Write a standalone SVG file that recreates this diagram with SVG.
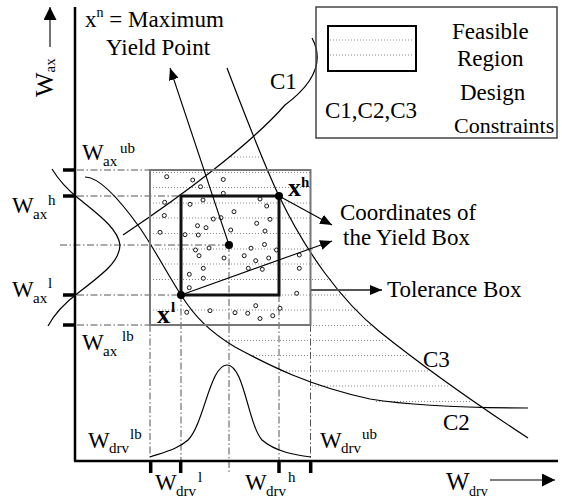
<svg xmlns="http://www.w3.org/2000/svg" width="562" height="499" viewBox="0 0 562 499">
<style>
.ax{stroke:#000;stroke-width:2.5;fill:none}
.tk{stroke:#000;stroke-width:3.5}
.cv{fill:none;stroke:#000;stroke-width:1.2}
.dd{stroke:#555;stroke-width:1;stroke-dasharray:7 2.5 1.5 2.5;fill:none}
.dt{stroke:#888;stroke-width:1;stroke-dasharray:1 2;fill:none}
.sm{fill:#fff;stroke:#000;stroke-width:0.9}
.ar{stroke:#000;stroke-width:1.1;fill:none}
.t{font-family:"Liberation Serif","Times New Roman",serif;fill:#000;font-size:23px}
.s{font-size:15px}
.b{font-weight:bold}
</style>
<defs>
<marker id="ah" viewBox="0 0 12 10" refX="12" refY="5" markerUnits="userSpaceOnUse" markerWidth="12" markerHeight="10" orient="auto">
<path d="M0,0 L12,5 L0,10 z" fill="#000"/>
</marker>
<marker id="ahb" viewBox="0 0 13 13" refX="13" refY="6.5" markerUnits="userSpaceOnUse" markerWidth="13" markerHeight="13" orient="auto">
<path d="M0,0 L13,6.5 L0,13 z" fill="#000"/>
</marker>
</defs>

<g id="hatch">
<path class="dt" d="M231,157H262 M150,172.5H310 M150,187.5H310 M150,203H310 M150,218H310 M150,233.5H310 M150,249H315 M150,264H322 M150,279.5H332 M279,295H346 M150,310H359 M310,325.5H372 M226,340.5H386 M250,355.5H407 M280,371H429 M312,386H449 M376,401.5H470"/>
</g>

<g id="guides">
<path class="dd" d="M77,170H150 M77,196H181 M60,245H229 M77,295H181 M77,325H150"/>
<path class="dd" d="M150,325V461 M181,295V461 M229,245V473 M279,295V461 M310.5,325V461"/>
</g>

<g id="samples">
<circle class="sm" cx="166.7" cy="176.7" r="2"/>
<circle class="sm" cx="192.7" cy="180" r="2"/>
<circle class="sm" cx="200.5" cy="186.7" r="2"/>
<circle class="sm" cx="223.3" cy="179.5" r="2"/>
<circle class="sm" cx="223.3" cy="193.3" r="2"/>
<circle class="sm" cx="164.7" cy="202.3" r="2"/>
<circle class="sm" cx="190" cy="204.3" r="2"/>
<circle class="sm" cx="203" cy="200" r="2"/>
<circle class="sm" cx="260" cy="199" r="2"/>
<circle class="sm" cx="266.7" cy="206" r="2"/>
<circle class="sm" cx="164.3" cy="215.5" r="2"/>
<circle class="sm" cx="234" cy="211.7" r="2"/>
<circle class="sm" cx="213.3" cy="219" r="2"/>
<circle class="sm" cx="221" cy="217.7" r="2"/>
<circle class="sm" cx="256.7" cy="223.3" r="2"/>
<circle class="sm" cx="270" cy="219.3" r="2"/>
<circle class="sm" cx="197.5" cy="225.7" r="2"/>
<circle class="sm" cx="206" cy="227.7" r="2"/>
<circle class="sm" cx="160" cy="232.3" r="2"/>
<circle class="sm" cx="185" cy="234.7" r="2"/>
<circle class="sm" cx="198.3" cy="235" r="2"/>
<circle class="sm" cx="230.7" cy="230" r="2"/>
<circle class="sm" cx="265" cy="231" r="2"/>
<circle class="sm" cx="209" cy="248" r="2"/>
<circle class="sm" cx="195.5" cy="250" r="2"/>
<circle class="sm" cx="199" cy="255.7" r="2"/>
<circle class="sm" cx="224" cy="258" r="2"/>
<circle class="sm" cx="251" cy="248.2" r="2"/>
<circle class="sm" cx="264.5" cy="244.5" r="2"/>
<circle class="sm" cx="276.5" cy="250" r="2"/>
<circle class="sm" cx="244.2" cy="255.7" r="2"/>
<circle class="sm" cx="255.7" cy="260.7" r="2"/>
<circle class="sm" cx="268.7" cy="258" r="2"/>
<circle class="sm" cx="203.3" cy="268.3" r="2"/>
<circle class="sm" cx="189.3" cy="274.3" r="2"/>
<circle class="sm" cx="203.3" cy="278.3" r="2"/>
<circle class="sm" cx="189.3" cy="287.7" r="2"/>
<circle class="sm" cx="248.3" cy="268.3" r="2"/>
<circle class="sm" cx="262.3" cy="269.3" r="2"/>
<circle class="sm" cx="299.3" cy="255" r="2"/>
<circle class="sm" cx="299.3" cy="268.3" r="2"/>
<circle class="sm" cx="296.7" cy="293.3" r="2"/>
<circle class="sm" cx="186.7" cy="312.3" r="2"/>
<circle class="sm" cx="210" cy="310.7" r="2"/>
<circle class="sm" cx="235" cy="312.7" r="2"/>
<circle class="sm" cx="247.7" cy="313.3" r="2"/>
<circle class="sm" cx="255.7" cy="305.7" r="2"/>
<circle class="sm" cx="260" cy="318.5" r="2"/>
<circle class="sm" cx="272.7" cy="315.7" r="2"/>
<circle class="sm" cx="280" cy="308.3" r="2"/>
</g>

<g id="curves">
<path id="C1" class="cv" d="M123,235 C180,197 250,145 285,105 C312,85 325,62 312,38"/>
<path id="C2" class="cv" d="M85,177 C100,177 120,200 140,228 C155,250 168,275 181,295 C195,317 210,332 235,347 C270,366 310,386 370,399 C420,407 480,408 528,408"/>
<path id="C3" class="cv" d="M227,68 C245,115 262,160 279,196 C305,250 340,300 380,332 C420,364 470,400 528,438"/>
<path id="pdf-ax" class="cv" d="M52,169 C60,182 68,190 78,198 C96,213 118,228 120,245 C120,262 100,276 78,293 C66,302 55,313 48,326"/>
<path id="pdf-drv" class="cv" d="M150,457 C165,452 178,449 188,440 C204,424 210,365 227,365 C244,365 248,424 262,440 C276,452 295,455 311,457"/>
</g>

<g id="tolerance-box">
<rect x="150" y="170" width="160.5" height="155" fill="none" stroke="#777" stroke-width="2"/>
</g>
<g id="yield-box">
<rect x="181" y="196" width="98" height="99" fill="none" stroke="#111" stroke-width="3"/>
</g>

<g id="axes">
<path class="ax" d="M75,7V461 M74,461H558"/>
<path class="tk" d="M63,170H75 M63,196H75 M63,295H75 M63,325H75 M150.7,461V473 M180.7,461V473 M279,461V473 M310.7,461V473"/>
</g>

<g id="connectors">
<line class="ar" x1="229" y1="245" x2="170" y2="68" marker-end="url(#ah)"/>
<line class="ar" x1="279" y1="196" x2="332" y2="225" marker-end="url(#ah)"/>
<line class="ar" x1="181" y1="295" x2="332" y2="241" marker-end="url(#ah)"/>
<line x1="311" y1="290" x2="382" y2="290" stroke="#555" stroke-width="2" marker-end="url(#ah)"/>
<line class="ar" x1="50" y1="47" x2="50" y2="7" marker-end="url(#ahb)"/>
<line class="ar" x1="490" y1="480" x2="555" y2="480" marker-end="url(#ahb)"/>
</g>

<g id="points">
<circle id="xh" cx="279" cy="196" r="4" fill="#000"/>
<circle id="xl" cx="181" cy="295" r="4" fill="#000"/>
<circle id="xn" cx="229" cy="245" r="4" fill="#000"/>
</g>

<g id="labels" class="t">
<text x="85" y="27">x<tspan font-size="14" dy="-10">n</tspan><tspan dy="10"> = Maximum</tspan></text>
<text x="106" y="55">Yield Point</text>
<text x="270" y="89">C1</text>
<text x="423" y="367">C3</text>
<text x="443" y="430">C2</text>
<text x="340" y="220">Coordinates of</text>
<text x="343" y="245">the Yield Box</text>
<text x="387" y="297">Tolerance Box</text>
<text class="b"><tspan x="288" y="196" font-size="26">x</tspan><tspan x="301" y="187" class="s">h</tspan></text>
<text class="b"><tspan x="157" y="323" font-size="26">x</tspan><tspan x="171" y="312" class="s">l</tspan></text>
<text><tspan x="82" y="160">W</tspan><tspan x="103" y="166" class="s">ax</tspan><tspan x="120" y="153" class="s">ub</tspan></text>
<text><tspan x="12" y="213">W</tspan><tspan x="33" y="219" class="s">ax</tspan><tspan x="48" y="205" class="s">h</tspan></text>
<text><tspan x="12" y="297">W</tspan><tspan x="33" y="303" class="s">ax</tspan><tspan x="48" y="288" class="s">l</tspan></text>
<text><tspan x="82" y="350">W</tspan><tspan x="103" y="356" class="s">ax</tspan><tspan x="122" y="341" class="s">lb</tspan></text>
<text><tspan x="88" y="448">W</tspan><tspan x="109" y="453" class="s">drv</tspan><tspan x="130" y="439" class="s">lb</tspan></text>
<text><tspan x="155" y="490">W</tspan><tspan x="176" y="496" class="s">drv</tspan><tspan x="198" y="482" class="s">l</tspan></text>
<text><tspan x="245" y="490">W</tspan><tspan x="266" y="496" class="s">drv</tspan><tspan x="288" y="482" class="s">h</tspan></text>
<text><tspan x="320" y="448">W</tspan><tspan x="341" y="453" class="s">drv</tspan><tspan x="362" y="439" class="s">ub</tspan></text>
<text><tspan x="446" y="490" font-size="25">W</tspan><tspan x="469" y="496" font-size="14">drv</tspan></text>
<text transform="translate(53,97) rotate(-90)" font-size="26">W<tspan font-size="15" dy="2">ax</tspan></text>
</g>

<g id="legend">
<rect x="316" y="7" width="241" height="131" fill="none" stroke="#444" stroke-width="1.5"/>
<rect x="328" y="26" width="88" height="45" fill="none" stroke="#000" stroke-width="2"/>
<path class="dt" d="M330,40H414 M330,55H414"/>
<g class="t">
<text x="452" y="39">Feasible</text>
<text x="457" y="66">Region</text>
<text x="325" y="118">C1,C2,C3</text>
<text x="460" y="100">Design</text>
<text x="454" y="133" font-size="22">Constraints</text>
</g>
</g>
</svg>
